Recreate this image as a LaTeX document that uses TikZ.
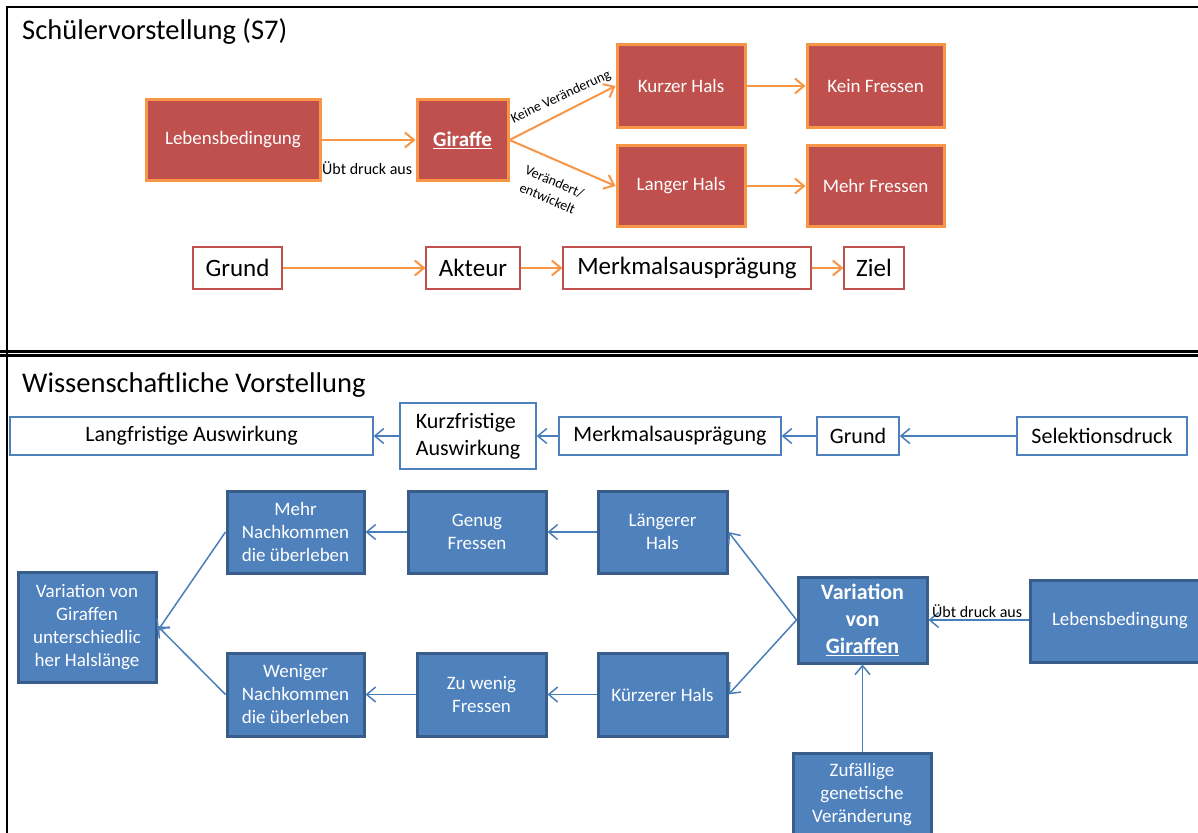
\documentclass[tikz,border=0pt]{standalone}
\usepackage{fontspec}
\setmainfont{Carlito}
\usetikzlibrary{arrows.meta}

\definecolor{redfill}{HTML}{C0504D}
\definecolor{orangeline}{HTML}{F79646}
\definecolor{bluefill}{HTML}{4F81BD}
\definecolor{blueedge}{HTML}{385D8A}
\definecolor{blueline}{HTML}{4A7EBB}
\definecolor{redline}{HTML}{C0504D}

\tikzset{
  redbox/.style={draw=orangeline, fill=redfill, line width=3pt, text=white,
    inner sep=0pt, align=center, font={\fontsize{19}{23}\selectfont}},
  bluebox/.style={draw=blueedge, fill=bluefill, line width=3pt, text=white,
    inner sep=0pt, align=center, font={\fontsize{19}{23}\selectfont}},
  redframe/.style={draw=redline, line width=1.3pt, fill=white, inner sep=0pt,
    font={\fontsize{25}{30}\selectfont}},
  blueframe/.style={draw=bluefill, line width=1.3pt, fill=white, inner sep=0pt,
    align=center, font={\fontsize{22}{27}\selectfont}},
  oarrow/.style={draw=orangeline, line width=2pt,
    -{Straight Barb[length=9pt,width=15pt,line width=2pt]}},
  barrow/.style={draw=blueline, line width=1.5pt,
    -{Straight Barb[length=9pt,width=15pt,line width=1.5pt]}},
  smalllabel/.style={inner sep=0pt, font={\fontsize{16}{19}\selectfont}},
  tiltlabel/.style={inner sep=0pt, align=center, font={\fontsize{14}{18}\selectfont}},
  heading/.style={inner sep=0pt, anchor=base west, font={\fontsize{28.5}{34}\selectfont}},
}

\begin{document}
\begin{tikzpicture}[x=1pt,y=-1pt]
\useasboundingbox (0,0) rectangle (1198,832);
\clip (0,0) rectangle (1198,832);
\fill[white] (0,0) rectangle (1198,832);

% panel frames
\draw[line width=2pt] (1215,7) -- (7,7) -- (7,840);
\draw[line width=2.6pt] (0,351.7) -- (1215,351.7);
\draw[line width=2.8pt] (0,355.4) -- (1215,355.4);

% ---------- upper panel ----------
\node[heading] (t1) at (22,40) {Schülervorstellung (S7)};

\node[redbox, minimum width=174pt, minimum height=81pt] (leb1) at (233,140) {Lebensbedingung};
\node[redbox, minimum width=91pt, minimum height=81pt, font={\fontsize{21}{25}\bfseries}] (gir1) at (462.5,140) {\underline{Giraffe}};
\node[redbox, minimum width=128pt, minimum height=82pt] (kurz) at (681,86) {Kurzer Hals};
\node[redbox, minimum width=137pt, minimum height=82pt] (kein) at (875.5,86) {Kein Fressen};
\node[redbox, minimum width=128pt, minimum height=81pt] (lang) at (681,186) {Langer Hals};
\node[redbox, minimum width=137pt, minimum height=81pt] (mehrF) at (875.5,186) {Mehr Fressen};

\draw[oarrow] (leb1) -- (gir1);
\draw[oarrow] (gir1.east) -- (kurz.west);
\draw[oarrow] (gir1.east) -- (lang.west);
\draw[oarrow] (kurz) -- (kein);
\draw[oarrow] (lang) -- (mehrF);

\node[smalllabel, anchor=base west] (lbl1) at (322,174) {Übt druck aus};
\node[tiltlabel, rotate=25] (lbl2) at (561,97) {Keine Veränderung};
\node[tiltlabel, rotate=-23] (lbl3) at (551,190) {Verändert/\\entwickelt};

\node[redframe, minimum width=89pt, minimum height=42pt] (grund1) at (237.5,268) {Grund};
\node[redframe, minimum width=94pt, minimum height=42pt] (akteur) at (473,268) {Akteur};
\node[redframe, minimum width=248pt, minimum height=42pt] (merk1) at (687,268) {Merkmalsausprägung};
\node[redframe, minimum width=60pt, minimum height=42pt] (ziel) at (874,268) {Ziel};

\draw[oarrow] (grund1) -- (akteur);
\draw[oarrow] (akteur) -- (merk1);
\draw[oarrow] (merk1) -- (ziel);

% ---------- lower panel ----------
\node[heading] (t2) at (22,392) {Wissenschaftliche Vorstellung};

\node[blueframe, minimum width=363pt, minimum height=38pt] (langf) at (191.5,436) {Langfristige Auswirkung};
\node[blueframe, minimum width=136pt, minimum height=66pt, align=left] (kurzf) at (468,436) {Kurzfristige\\Auswirkung};
\node[blueframe, minimum width=222pt, minimum height=38pt] (merk2) at (670,436) {Merkmalsausprägung};
\node[blueframe, minimum width=82pt, minimum height=38pt] (grund2) at (858,436) {Grund};
\node[blueframe, minimum width=170pt, minimum height=38pt] (selek) at (1102,436) {Selektionsdruck};

\draw[barrow] (selek) -- (grund2);
\draw[barrow] (grund2) -- (merk2);
\draw[barrow] (merk2) -- (kurzf);
\draw[barrow] (kurzf) -- (langf);

\node[bluebox, minimum width=137pt, minimum height=82pt] (mehrN) at (295.5,532) {Mehr\\Nachkommen\\die überleben};
\node[bluebox, minimum width=138pt, minimum height=82pt] (genug) at (477,532) {Genug\\Fressen};
\node[bluebox, minimum width=129pt, minimum height=82pt] (laenger) at (662.5,532) {Längerer\\Hals};
\node[bluebox, minimum width=138pt, minimum height=110pt] (varL) at (87,627) {Variation von\\Giraffen\\unterschiedlic\\her Halslänge};
\node[bluebox, minimum width=137pt, minimum height=83pt] (wenigN) at (295.5,694.5) {Weniger\\Nachkommen\\die überleben};
\node[bluebox, minimum width=129pt, minimum height=83pt] (zuwenig) at (481.5,694.5) {Zu wenig\\Fressen};
\node[bluebox, minimum width=129pt, minimum height=83pt] (kuerzer) at (662.5,694.5) {Kürzerer Hals};
\node[bluebox, minimum width=129pt, minimum height=86pt, font={\fontsize{22}{27}\bfseries}] (varG) at (862.5,620) {Variation\\von\\\underline{Giraffen}};
\node[bluebox, minimum width=180pt, minimum height=82pt, text width=170pt, align=left] (leb2) at (1120,621) {\hspace*{17pt}Lebensbedingung};
\node[bluebox, minimum width=138pt, minimum height=83pt] (zuf) at (862,794.5) {Zufällige\\genetische\\Veränderung};

\draw[barrow] (laenger) -- (genug);
\draw[barrow] (genug) -- (mehrN);
\draw[barrow] (kuerzer) -- (zuwenig);
\draw[barrow] (zuwenig) -- (wenigN);
\draw[barrow] (varG.west) -- (laenger.east);
\draw[barrow] (varG.west) -- (kuerzer.east);
\draw[barrow] (mehrN.west) -- ([yshift=-4pt]varL.east);
\draw[barrow] (wenigN.west) -- ([yshift=1pt]varL.east);
\draw[barrow] (leb2.west |- varG.east) -- (varG.east);
\draw[barrow] (zuf.north -| varG.south) -- (varG.south);

\node[smalllabel, anchor=base west] (lbl4) at (932,617) {Übt druck aus};
\end{tikzpicture}
\end{document}
